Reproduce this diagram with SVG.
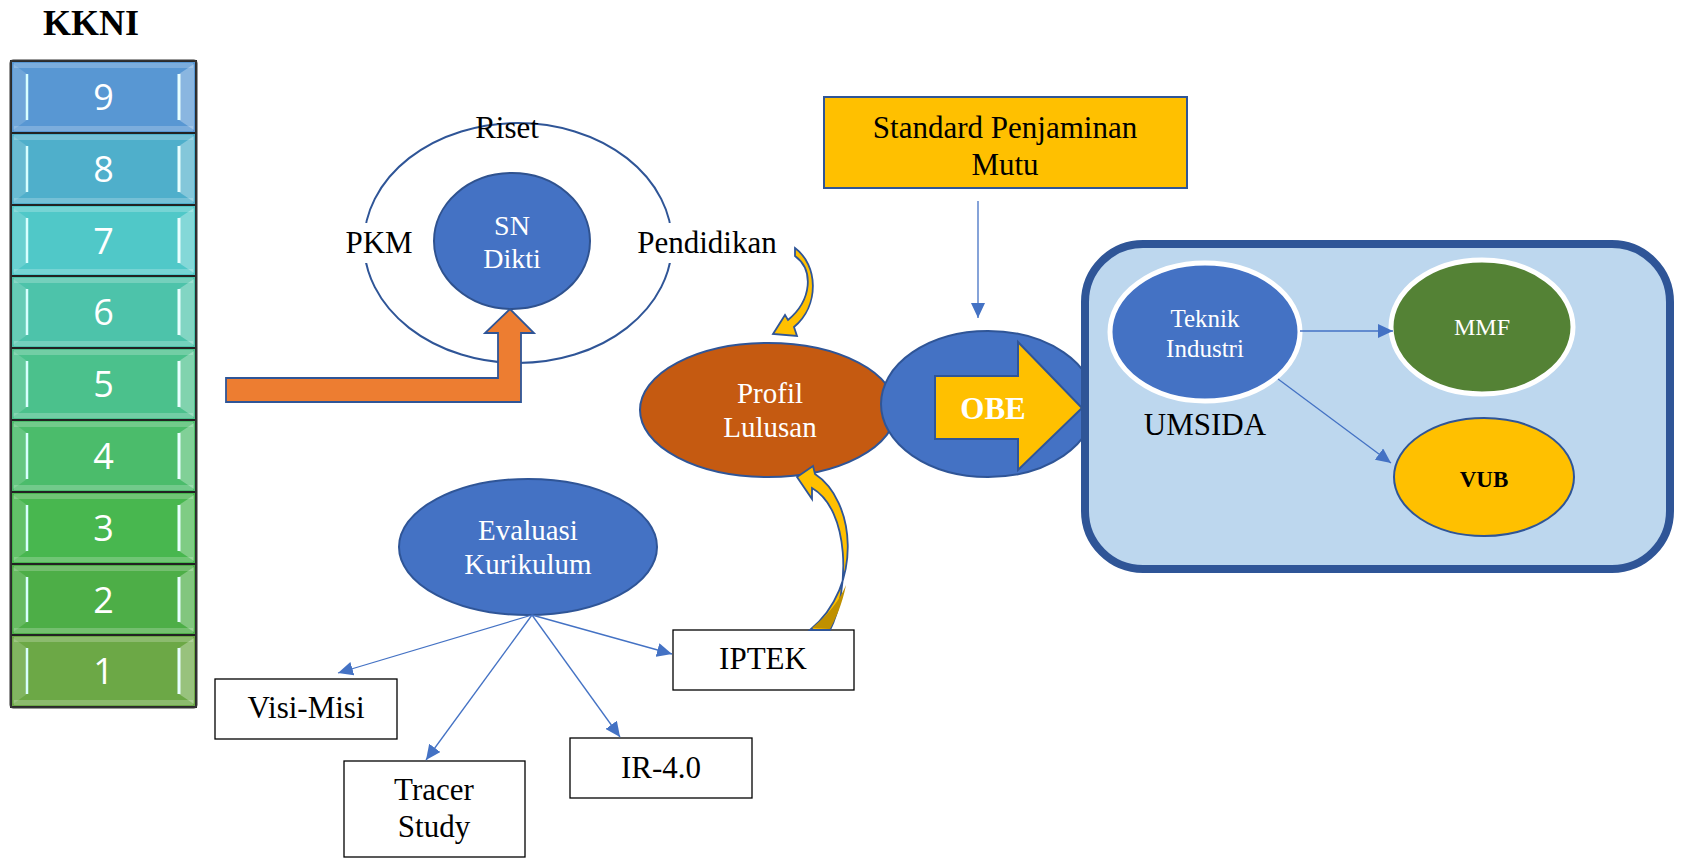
<svg xmlns="http://www.w3.org/2000/svg" width="1685" height="858" viewBox="0 0 1685 858">
<defs>
<marker id="ah" markerUnits="userSpaceOnUse" markerWidth="15" markerHeight="14" refX="15" refY="7" orient="auto"><path d="M0,0 L15,7 L0,14 Z" fill="#4472C4"/></marker>
</defs>
<style>
.serif{font-family:"Liberation Serif","Times New Roman",serif}
.lbl{font-size:31px;fill:#000;text-anchor:middle}
.wt{fill:#fff;text-anchor:middle}
.conn{stroke:#4472C4;stroke-width:1.3;fill:none;marker-end:url(#ah)}
.box{fill:#fff;stroke:#000;stroke-width:1.3}
.digit{font-family:"Open Sans","Liberation Sans",sans-serif;font-size:36px;fill:#fff;text-anchor:middle}
.cell{stroke:#222;stroke-width:2}
.hl{fill:#fff;opacity:0.22}
.bl{fill:#fff;opacity:0.15}
.br{fill:#fff;opacity:0.3}
.bvl{stroke:#D8FFFF;stroke-width:2.5;fill:none}
.bvr{stroke:#E8FFFF;stroke-width:3;fill:none}
.blk{stroke:#2F5597;stroke-width:1.8}
</style>
<rect width="1685" height="858" fill="#fff"/>

<!-- KKNI stack -->
<g id="kkni">
<text class="serif" x="91" y="35" font-size="36" font-weight="bold" text-anchor="middle">KKNI</text>
<g id="kkni-9" transform="translate(0,61)"><rect class="cell" x="11" y="0" width="185" height="72" fill="#5897D3"/><rect class="hl" x="14" y="2" width="179" height="5"/><rect class="hl" x="14" y="65" width="179" height="5"/><polygon class="bl" points="13,3 27,13 27,59 13,69"/><polygon class="br" points="194,3 179,13 179,59 194,69"/><path class="bvl" d="M27,13 V59"/><path class="bvr" d="M179,13 V59"/><text class="digit" x="103.5" y="49">9</text></g>
<g id="kkni-8" transform="translate(0,133)"><rect class="cell" x="11" y="0" width="185" height="72" fill="#4FAFCB"/><rect class="hl" x="14" y="2" width="179" height="5"/><rect class="hl" x="14" y="65" width="179" height="5"/><polygon class="bl" points="13,3 27,13 27,59 13,69"/><polygon class="br" points="194,3 179,13 179,59 194,69"/><path class="bvl" d="M27,13 V59"/><path class="bvr" d="M179,13 V59"/><text class="digit" x="103.5" y="49">8</text></g>
<g id="kkni-7" transform="translate(0,205)"><rect class="cell" x="11" y="0" width="185" height="71" fill="#50C8C8"/><rect class="hl" x="14" y="2" width="179" height="5"/><rect class="hl" x="14" y="64" width="179" height="5"/><polygon class="bl" points="13,3 27,13 27,58 13,68"/><polygon class="br" points="194,3 179,13 179,58 194,68"/><path class="bvl" d="M27,13 V58"/><path class="bvr" d="M179,13 V58"/><text class="digit" x="103.5" y="49">7</text></g>
<g id="kkni-6" transform="translate(0,276)"><rect class="cell" x="11" y="0" width="185" height="72" fill="#4DC3AA"/><rect class="hl" x="14" y="2" width="179" height="5"/><rect class="hl" x="14" y="65" width="179" height="5"/><polygon class="bl" points="13,3 27,13 27,59 13,69"/><polygon class="br" points="194,3 179,13 179,59 194,69"/><path class="bvl" d="M27,13 V59"/><path class="bvr" d="M179,13 V59"/><text class="digit" x="103.5" y="49">6</text></g>
<g id="kkni-5" transform="translate(0,348)"><rect class="cell" x="11" y="0" width="185" height="72" fill="#4BC18C"/><rect class="hl" x="14" y="2" width="179" height="5"/><rect class="hl" x="14" y="65" width="179" height="5"/><polygon class="bl" points="13,3 27,13 27,59 13,69"/><polygon class="br" points="194,3 179,13 179,59 194,69"/><path class="bvl" d="M27,13 V59"/><path class="bvr" d="M179,13 V59"/><text class="digit" x="103.5" y="49">5</text></g>
<g id="kkni-4" transform="translate(0,420)"><rect class="cell" x="11" y="0" width="185" height="72" fill="#4BBC6B"/><rect class="hl" x="14" y="2" width="179" height="5"/><rect class="hl" x="14" y="65" width="179" height="5"/><polygon class="bl" points="13,3 27,13 27,59 13,69"/><polygon class="br" points="194,3 179,13 179,59 194,69"/><path class="bvl" d="M27,13 V59"/><path class="bvr" d="M179,13 V59"/><text class="digit" x="103.5" y="49">4</text></g>
<g id="kkni-3" transform="translate(0,492)"><rect class="cell" x="11" y="0" width="185" height="72" fill="#48B74F"/><rect class="hl" x="14" y="2" width="179" height="5"/><rect class="hl" x="14" y="65" width="179" height="5"/><polygon class="bl" points="13,3 27,13 27,59 13,69"/><polygon class="br" points="194,3 179,13 179,59 194,69"/><path class="bvl" d="M27,13 V59"/><path class="bvr" d="M179,13 V59"/><text class="digit" x="103.5" y="49">3</text></g>
<g id="kkni-2" transform="translate(0,564)"><rect class="cell" x="11" y="0" width="185" height="71" fill="#4DAE47"/><rect class="hl" x="14" y="2" width="179" height="5"/><rect class="hl" x="14" y="64" width="179" height="5"/><polygon class="bl" points="13,3 27,13 27,58 13,68"/><polygon class="br" points="194,3 179,13 179,58 194,68"/><path class="bvl" d="M27,13 V58"/><path class="bvr" d="M179,13 V58"/><text class="digit" x="103.5" y="49">2</text></g>
<g id="kkni-1" transform="translate(0,635)"><rect class="cell" x="11" y="0" width="185" height="72" fill="#6CA846"/><rect class="hl" x="14" y="2" width="179" height="5"/><rect class="hl" x="14" y="65" width="179" height="5"/><polygon class="bl" points="13,3 27,13 27,59 13,69"/><polygon class="br" points="194,3 179,13 179,59 194,69"/><path class="bvl" d="M27,13 V59"/><path class="bvr" d="M179,13 V59"/><text class="digit" x="103.5" y="49">1</text></g>
<rect x="10.5" y="60.5" width="186" height="647" rx="3" fill="none" stroke="#333" stroke-width="2"/>
</g>

<!-- Tri Dharma ring -->
<g id="tridharma">
<ellipse cx="518" cy="243" rx="154" ry="120" fill="none" stroke="#2F5597" stroke-width="2"/>
<rect x="338" y="223" width="82" height="40" fill="#fff"/>
<rect x="619" y="223" width="176" height="40" fill="#fff"/>
<text class="serif lbl" x="507" y="138">Riset</text>
<text class="serif lbl" x="379" y="253">PKM</text>
<text class="serif lbl" x="707" y="253">Pendidikan</text>
</g>

<g id="sn-dikti">
<ellipse cx="512" cy="241" rx="78" ry="68" fill="#4472C4" stroke="#2F528F" stroke-width="2"/>
<text class="serif wt" x="512" y="235" font-size="28">SN</text>
<text class="serif wt" x="512" y="268" font-size="28">Dikti</text>
</g>

<g id="standard-mutu">
<rect x="824" y="97" width="363" height="91" fill="#FFC000" stroke="#2F5597" stroke-width="2"/>
<text class="serif lbl" x="1005" y="138">Standard Penjaminan</text>
<text class="serif lbl" x="1005" y="175">Mutu</text>
</g>

<g id="profil-lulusan">
<ellipse cx="768" cy="410" rx="128" ry="67" fill="#C55A11" stroke="#2F5597" stroke-width="2"/>
<text class="serif wt" x="770" y="403" font-size="29">Profil</text>
<text class="serif wt" x="770" y="437" font-size="29">Lulusan</text>
</g>

<g id="obe">
<ellipse cx="988" cy="404" rx="107" ry="73" fill="#4472C4" stroke="#2F5597" stroke-width="2"/>
<path d="M935,376 H1018 V342 L1082,408 L1018,470 V439 H935 Z" fill="#FFC000" stroke="#2F5597" stroke-width="2"/>
<text class="serif wt" x="993" y="419" font-size="31" font-weight="bold">OBE</text>
</g>

<g id="evaluasi">
<ellipse cx="528" cy="547" rx="129" ry="68" fill="#4472C4" stroke="#2F5597" stroke-width="2"/>
<text class="serif wt" x="528" y="540" font-size="29">Evaluasi</text>
<text class="serif wt" x="528" y="574" font-size="29">Kurikulum</text>
</g>

<g id="visi-misi"><rect class="box" x="215" y="679" width="182" height="60"/><text class="serif lbl" x="306" y="718">Visi-Misi</text></g>
<g id="tracer-study"><rect class="box" x="344" y="761" width="181" height="96"/><text class="serif lbl" x="434" y="800">Tracer</text><text class="serif lbl" x="434" y="837">Study</text></g>
<g id="ir40"><rect class="box" x="570" y="738" width="182" height="60"/><text class="serif lbl" x="661" y="778">IR-4.0</text></g>
<g id="iptek"><rect class="box" x="673" y="630" width="181" height="60"/><text class="serif lbl" x="763" y="669">IPTEK</text></g>

<g id="umsida">
<rect x="1085" y="244" width="585" height="325" rx="58" fill="#BDD7EE" stroke="#2F5597" stroke-width="8"/>
<text class="serif lbl" x="1205" y="435">UMSIDA</text>
</g>
<g id="teknik-industri">
<ellipse cx="1205" cy="332" rx="95" ry="69" fill="#4472C4" stroke="#fff" stroke-width="5"/>
<text class="serif wt" x="1205" y="327" font-size="25">Teknik</text>
<text class="serif wt" x="1205" y="357" font-size="25">Industri</text>
</g>
<g id="mmf">
<ellipse cx="1482" cy="327" rx="91" ry="67" fill="#548235" stroke="#fff" stroke-width="5"/>
<text class="serif wt" x="1482" y="335" font-size="24">MMF</text>
</g>
<g id="vub">
<ellipse cx="1484" cy="477" rx="90" ry="59" fill="#FFC000" stroke="#2F5597" stroke-width="2"/>
<text class="serif" x="1484" y="487" font-size="23" font-weight="bold" text-anchor="middle">VUB</text>
</g>

<!-- connectors -->
<g id="connectors">
<path d="M226,378 H498 V333 H485 L510,309 L534,333 H521 V402 H226 Z" fill="#ED7D31" class="blk"/>
<path d="M795,248 C818,265 820,305 794,327 L797,336 L773,334 L785,315 L788,320 C812,300 814,270 795,256 Z" fill="#FFC000" stroke="#2F5597" stroke-width="1.8"/>
<path d="M797,477 L813,466 L815,474 C855,500 864,585 810,630 L830,630 C850,590 850,510 812,488 L812,499 Z" fill="#FFC000" stroke="#2F5597" stroke-width="1.8"/>
<path d="M812,628 C828,615 840,600 846,585 C842,605 836,618 830,629 Z" fill="#BF9000"/>
<line class="conn" x1="978" y1="201" x2="978" y2="318"/>
<line class="conn" x1="532" y1="615" x2="338" y2="673"/>
<line class="conn" x1="532" y1="615" x2="426" y2="760"/>
<line class="conn" x1="532" y1="615" x2="620" y2="737"/>
<line class="conn" x1="532" y1="615" x2="672" y2="654"/>
<line class="conn" x1="1300" y1="331" x2="1393" y2="331"/>
<line class="conn" x1="1278" y1="379" x2="1391" y2="463"/>
</g>
</svg>
